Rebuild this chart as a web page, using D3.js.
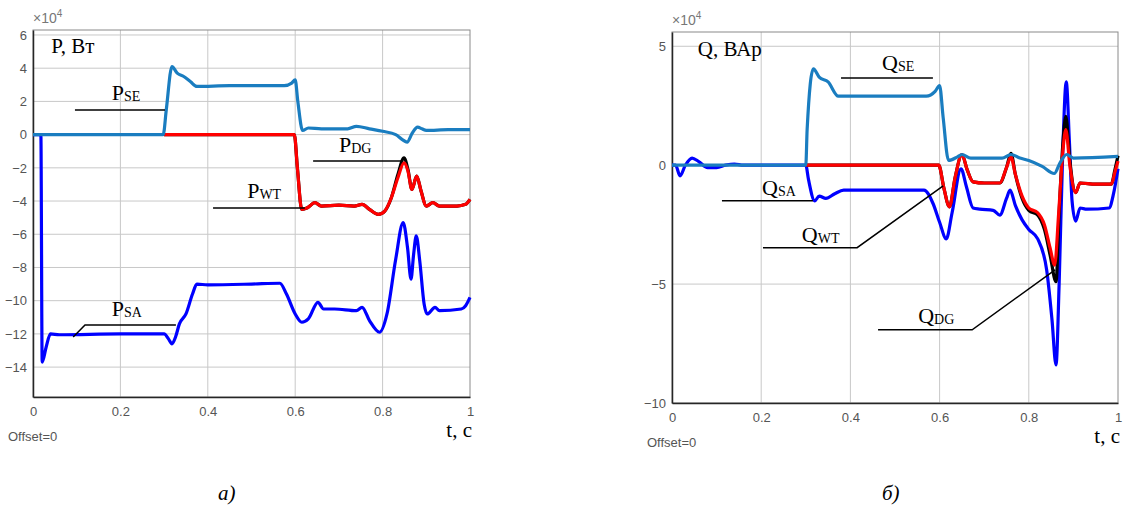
<!DOCTYPE html>
<html>
<head>
<meta charset="utf-8">
<script src="https://cdn.jsdelivr.net/npm/d3@7"></script>
<style>
  body { margin: 0; background: #fff; }
  svg { display: block; }
</style>
</head>
<body>
<div id="chart"></div>
<script>
// time ticks, shared by both panels
const tTicks = [0, 0.2, 0.4, 0.6, 0.8, 1]
const pTicks = [6, 4, 2, 0, -2, -4, -6, -8, -10, -12, -14]
const qTicks = [5, 0, -5, -10]

// active power, x10^4 W  [t, value]
const pSE = [[0,0],[0.298,0],[0.305,1.5],[0.318,4.1],[0.33,3.7],[0.345,3.5],[0.36,3.2],[0.375,2.9],[0.45,2.95],[0.575,2.95],[0.592,3.1],[0.6,3.3],[0.606,2.0],[0.617,0.25],[0.63,0.4],[0.66,0.35],[0.72,0.35],[0.74,0.5],[0.77,0.35],[0.8,0.2],[0.83,0.0],[0.845,-0.3],[0.856,-0.45],[0.868,0.1],[0.88,0.45],[0.89,0.35],[0.9,0.25],[0.95,0.3],[1.0,0.3]]
const pDG = [[0.3,0],[0.598,0],[0.605,-2],[0.615,-4.5],[0.628,-4.4],[0.645,-4.1],[0.66,-4.3],[0.7,-4.25],[0.735,-4.3],[0.753,-4.2],[0.77,-4.5],[0.79,-4.8],[0.805,-4.6],[0.82,-3.8],[0.835,-2.4],[0.849,-1.4],[0.858,-2.1],[0.867,-3.3],[0.878,-2.5],[0.888,-3.4],[0.9,-4.3],[0.915,-4.1],[0.93,-4.3],[0.97,-4.3],[0.99,-4.2],[1.0,-3.9]]
const pWT = [[0.3,0],[0.598,0],[0.605,-2],[0.615,-4.5],[0.628,-4.4],[0.645,-4.1],[0.66,-4.3],[0.7,-4.25],[0.735,-4.3],[0.753,-4.2],[0.77,-4.5],[0.79,-4.8],[0.805,-4.6],[0.82,-3.8],[0.835,-2.6],[0.849,-1.7],[0.858,-2.2],[0.867,-3.3],[0.878,-2.5],[0.888,-3.4],[0.9,-4.3],[0.915,-4.1],[0.93,-4.3],[0.97,-4.3],[0.99,-4.2],[1.0,-3.9]]
const pSA = [[0,0],[0.018,0],[0.021,-13.7],[0.03,-12.8],[0.04,-12.0],[0.06,-12.05],[0.2,-12],[0.3,-12],[0.31,-12.3],[0.318,-12.6],[0.326,-12.2],[0.335,-11.4],[0.35,-10.8],[0.365,-9.6],[0.375,-9.0],[0.4,-9.05],[0.5,-9.0],[0.565,-8.95],[0.58,-9.6],[0.6,-10.8],[0.615,-11.3],[0.63,-11.1],[0.652,-10.1],[0.665,-10.5],[0.69,-10.5],[0.74,-10.6],[0.753,-10.4],[0.77,-11.2],[0.793,-11.9],[0.81,-10.8],[0.83,-7.5],[0.847,-5.3],[0.857,-6.8],[0.865,-8.7],[0.871,-7.2],[0.877,-6.1],[0.885,-7.6],[0.895,-10.2],[0.902,-10.8],[0.92,-10.4],[0.93,-10.6],[0.98,-10.5],[0.99,-10.3],[1.0,-9.8]]

// reactive power, x10^4 VAr
const qSE = [[0,0],[0.3,0],[0.303,1.5],[0.317,4.05],[0.33,3.7],[0.35,3.5],[0.373,2.9],[0.45,2.9],[0.57,2.9],[0.59,3.1],[0.6,3.35],[0.608,2.0],[0.62,0.2],[0.64,0.35],[0.65,0.45],[0.67,0.3],[0.74,0.3],[0.76,0.45],[0.78,0.3],[0.8,0.2],[0.83,-0.05],[0.857,-0.35],[0.87,0.1],[0.885,0.45],[0.9,0.3],[1.0,0.37]]
const qDG = [[0.3,0],[0.598,0],[0.61,-1.0],[0.622,-1.75],[0.635,-0.5],[0.65,0.45],[0.662,-0.2],[0.675,-0.7],[0.7,-0.75],[0.735,-0.75],[0.75,-0.1],[0.76,0.5],[0.77,-0.4],[0.785,-1.4],[0.8,-1.9],[0.82,-2.1],[0.835,-2.7],[0.848,-3.8],[0.861,-4.9],[0.868,-2],[0.876,0.8],[0.883,2.05],[0.892,0.2],[0.905,-1.15],[0.915,-0.75],[0.95,-0.8],[0.985,-0.8],[0.993,-0.2],[1.0,0.4]]
const qWT = [[0.3,0],[0.598,0],[0.61,-1.0],[0.622,-1.75],[0.635,-0.5],[0.65,0.45],[0.662,-0.2],[0.675,-0.7],[0.7,-0.75],[0.735,-0.75],[0.75,-0.1],[0.76,0.35],[0.77,-0.4],[0.785,-1.3],[0.8,-1.8],[0.82,-2.0],[0.835,-2.5],[0.848,-3.5],[0.858,-4.2],[0.867,-2],[0.876,0.5],[0.883,1.5],[0.892,0.0],[0.905,-1.15],[0.915,-0.75],[0.95,-0.8],[0.985,-0.8],[0.993,-0.3],[1.0,0.17]]
const qSA = [[0,0],[0.008,0],[0.018,-0.45],[0.03,0.0],[0.045,0.3],[0.06,0.15],[0.08,-0.1],[0.1,-0.1],[0.12,0],[0.14,0.05],[0.16,0],[0.3,0],[0.306,-0.6],[0.32,-1.5],[0.33,-1.3],[0.345,-1.4],[0.365,-1.2],[0.385,-1.05],[0.45,-1.05],[0.565,-1.05],[0.585,-1.6],[0.6,-2.4],[0.615,-3.1],[0.628,-2.0],[0.648,-0.15],[0.66,-0.9],[0.675,-1.8],[0.69,-1.85],[0.72,-1.9],[0.735,-2.1],[0.75,-1.4],[0.758,-1.05],[0.77,-1.7],[0.785,-2.3],[0.8,-2.7],[0.82,-3.1],[0.84,-4.4],[0.852,-6.5],[0.861,-8.4],[0.868,-5],[0.876,0.5],[0.884,3.5],[0.891,1.0],[0.897,-1.5],[0.905,-2.35],[0.915,-1.8],[0.93,-1.85],[0.98,-1.8],[0.99,-1.2],[1.0,-0.15]]

// leader labels: [main, sub, text t, text v, line points]
const pLabels = [
  ['P', 'SE', 0.18, 2.08, [[0.096, 1.48], [0.302, 1.48]]],
  ['P', 'DG', 0.70, -1.05, [[0.641, -1.59], [0.847, -1.59]]],
  ['P', 'WT', 0.49, -3.82, [[0.412, -4.42], [0.622, -4.42]]],
  ['P', 'SA', 0.18, -10.93, [[0.092, -12.19], [0.119, -11.46], [0.327, -11.46]]]
]
const qLabels = [
  ['Q', 'SE', 0.471, 4.0, [[0.379, 3.67], [0.585, 3.67]]],
  ['Q', 'SA', 0.202, -1.25, [[0.112, -1.5], [0.316, -1.5]]],
  ['Q', 'WT', 0.291, -3.22, [[0.204, -3.47], [0.415, -3.47], [0.608, -0.87]]],
  ['Q', 'DG', 0.552, -6.62, [[0.462, -6.92], [0.673, -6.92], [0.859, -4.4]]]
]

const colors = { SE: '#1a7dc0', SA: '#0000ff', WT: '#ff0000', DG: '#000000' }
const serif = '"Liberation Serif", "Times New Roman", serif'
const sans = '"Liberation Sans", Arial, sans-serif'

const svg = d3.select('#chart')
  .append('svg')
  .attr('width', 1123)
  .attr('height', 507)

function panel(opt) {
  const x = d3.scaleLinear().domain([0, 1]).range([opt.left, opt.right])
  const y = d3.scaleLinear().domain(opt.yDomain).range([opt.bottom, opt.top])
  const g = svg.append('g')

  // grid
  g.append('g')
    .selectAll('line')
    .data(tTicks.slice(1, -1))
    .join('line')
    .attr('x1', d => x(d)).attr('x2', d => x(d))
    .attr('y1', opt.top).attr('y2', opt.bottom)
    .attr('stroke', '#c8c8c8')
  g.append('g')
    .selectAll('line')
    .data(opt.yTicks)
    .join('line')
    .attr('x1', opt.left).attr('x2', opt.right)
    .attr('y1', d => y(d)).attr('y2', d => y(d))
    .attr('stroke', '#c8c8c8')

  // box
  g.append('rect')
    .attr('x', opt.left).attr('y', opt.top)
    .attr('width', opt.right - opt.left).attr('height', opt.bottom - opt.top)
    .attr('fill', 'none')
    .attr('stroke', '#8a8a8a')

  const xAxis = d3.axisBottom(x).tickValues(tTicks).tickSize(0).tickPadding(10)
    .tickFormat(d => d === 0 || d === 1 ? d : d.toFixed(1))
  const yAxis = d3.axisLeft(y).tickValues(opt.yTicks).tickSize(0).tickPadding(6)

  g.append('g')
    .attr('transform', `translate(0,${opt.bottom})`)
    .call(xAxis)
    .call(a => a.select('.domain').attr('stroke', '#262626').attr('stroke-width', 1.5))
    .selectAll('text')
    .attr('font-family', sans).attr('font-size', 13).attr('fill', '#555')
  g.append('g')
    .attr('transform', `translate(${opt.left},0)`)
    .call(yAxis)
    .call(a => a.select('.domain').attr('stroke', '#262626').attr('stroke-width', 1.5))
    .selectAll('text')
    .attr('font-family', sans).attr('font-size', 13).attr('fill', '#555')

  // series
  const line = d3.line()
    .curve(d3.curveMonotoneX)
    .x(d => x(d[0]))
    .y(d => y(d[1]))
  opt.series.forEach(([key, data]) => {
    g.append('path')
      .datum(data)
      .attr('fill', 'none')
      .attr('stroke', colors[key])
      .attr('stroke-width', 3.2)
      .attr('stroke-linejoin', 'round')
      .attr('d', line)
  })

  // exponent
  const ex = g.append('text')
    .attr('x', opt.left)
    .attr('y', opt.top - 7)
    .attr('font-family', sans).attr('font-size', 14).attr('fill', '#777')
    .text('×10')
  ex.append('tspan').attr('font-size', 10).attr('dy', -6).text('4')

  // quantity title
  g.append('text')
    .attr('x', x(opt.title[1])).attr('y', y(opt.title[2]))
    .attr('font-family', serif).attr('font-size', 21)
    .text(opt.title[0])

  // leaders
  const leader = d3.line().x(d => x(d[0])).y(d => y(d[1]))
  opt.labels.forEach(([m, s, tx, ty, pts]) => {
    g.append('path')
      .attr('d', leader(pts))
      .attr('fill', 'none')
      .attr('stroke', '#000')
      .attr('stroke-width', 1.5)
    const t = g.append('text')
      .attr('x', x(tx)).attr('y', y(ty))
      .attr('font-family', serif).attr('font-size', 22)
      .text(m)
    t.append('tspan').attr('font-size', 14).attr('dy', 1).text(s)
  })

  g.append('text')
    .attr('x', opt.left - 25).attr('y', opt.bottom + 44)
    .attr('font-family', sans).attr('font-size', 13).attr('fill', '#555')
    .text('Offset=0')

  g.append('text')
    .attr('x', opt.right + 2).attr('y', opt.bottom + 40)
    .attr('text-anchor', 'end')
    .attr('font-family', serif).attr('font-size', 21)
    .text('t, c')

  g.append('text')
    .attr('x', opt.captionX).attr('y', 500)
    .attr('font-family', serif).attr('font-size', 21).attr('font-style', 'italic')
    .text(opt.caption)
}

panel({
  left: 33, right: 470, top: 30, bottom: 397,
  yDomain: [-15.8, 6.3], yTicks: pTicks,
  series: [['SA', pSA], ['DG', pDG], ['WT', pWT], ['SE', pSE]],
  labels: pLabels,
  title: ['P, Вт', 0.042, 4.9],
  caption: 'а)', captionX: 218
})

panel({
  left: 672, right: 1118, top: 32, bottom: 403,
  yDomain: [-10, 5.6], yTicks: qTicks,
  series: [['SA', qSA], ['DG', qDG], ['WT', qWT], ['SE', qSE]],
  labels: qLabels,
  title: ['Q, ВАр', 0.058, 4.6],
  caption: 'б)', captionX: 882
})
</script>
</body>
</html>
